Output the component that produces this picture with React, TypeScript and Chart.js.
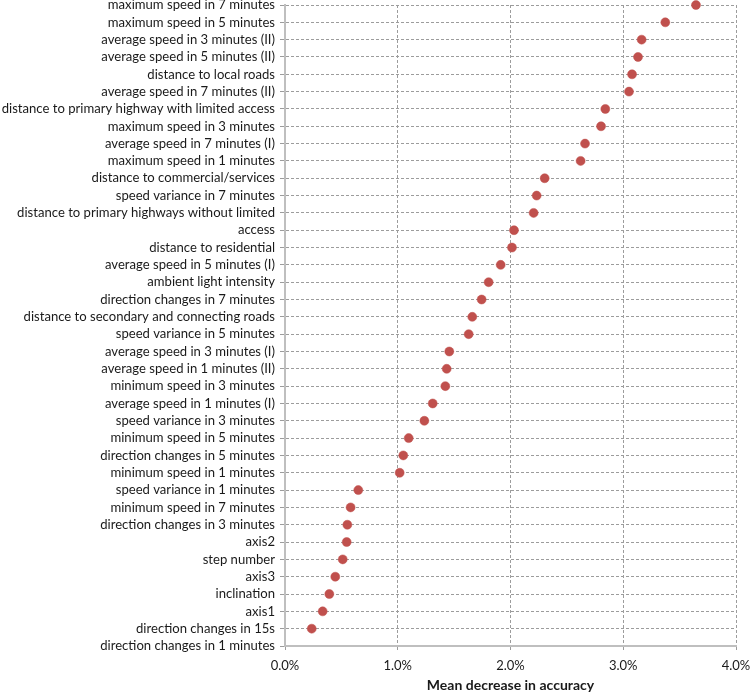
import React, { useEffect, useRef } from "react";
import { Chart, registerables } from "chart.js";

Chart.register(...registerables);

const categories: string[] = [
  "maximum speed in 7 minutes",
  "maximum speed in 5 minutes",
  "average speed in 3 minutes (II)",
  "average speed in 5 minutes (II)",
  "distance to local roads",
  "average speed in 7 minutes (II)",
  "distance to primary highway with limited access",
  "maximum speed in 3 minutes",
  "average speed in 7 minutes (I)",
  "maximum speed in 1 minutes",
  "distance to commercial/services",
  "speed variance in 7 minutes",
  "distance to primary highways without limited",
  "access",
  "distance to residential",
  "average speed in 5 minutes (I)",
  "ambient light intensity",
  "direction changes in 7 minutes",
  "distance to secondary and connecting roads",
  "speed variance in 5 minutes",
  "average speed in 3 minutes (I)",
  "average speed in 1 minutes (II)",
  "minimum speed in 3 minutes",
  "average speed in 1 minutes (I)",
  "speed variance in 3 minutes",
  "minimum speed in 5 minutes",
  "direction changes in 5 minutes",
  "minimum speed in 1 minutes",
  "speed variance in 1 minutes",
  "minimum speed in 7 minutes",
  "direction changes in 3 minutes",
  "axis2",
  "step number",
  "axis3",
  "inclination",
  "axis1",
  "direction changes in 15s",
  "direction changes in 1 minutes",
];

// Mean decrease in accuracy (fraction)
const meanDecrease: (number | null)[] = [
  0.03645, 0.03373, 0.03163, 0.03131, 0.03078, 0.03051, 0.02841,
  0.02803, 0.02661, 0.02622, 0.02303, 0.02232, 0.02205, 0.02031,
  0.02013, 0.01913, 0.01806, 0.01744, 0.01661, 0.01629, 0.01457,
  0.01434, 0.01422, 0.0131, 0.01236, 0.01097, 0.01049, 0.01017,
  0.0065, 0.00582, 0.00553, 0.00547, 0.00512, 0.00446, 0.00393,
  0.00334, 0.00237, null,
];

const xMin = 0;
const xMax = 0.04;
const xStep = 0.01;
const xTitle = "Mean decrease in accuracy";

export default function App() {
  const ref = useRef<HTMLCanvasElement | null>(null);

  useEffect(() => {
    if (!ref.current) return;
    const font = "Lato, 'Open Sans', sans-serif";
    const chart = new Chart(ref.current, {
      type: "line",
      data: {
        labels: categories,
        datasets: [
          {
            data: meanDecrease,
            showLine: false,
            pointRadius: 4.5,
            pointHoverRadius: 4.5,
            pointBackgroundColor: "#C0504D",
            pointBorderColor: "#C0504D",
            pointBorderWidth: 0.5,
            clip: false as any,
          },
        ],
      },
      options: {
        indexAxis: "y",
        responsive: false,
        animation: false,
        layout: { padding: { top: 5, right: 14, left: 0, bottom: 0 } },
        plugins: { legend: { display: false }, tooltip: { enabled: false } },
        scales: {
          y: {
            type: "category",
            offset: false,
            afterFit: (scale: any) => {
              scale.width = 285;
              scale.paddingTop = 0;
              scale.paddingBottom = 0;
            },
            grid: {
              color: "#9c9c9c",
              lineWidth: 1,
              tickLength: 5,
              tickColor: "#9c9c9c",
              tickBorderDash: [],
            },
            border: { display: true, color: "#BFBFBF", width: 2, dash: [3, 2] },
            ticks: {
              autoSkip: false,
              padding: 5,
              color: "#1a1a1a",
              font: { family: font, size: 13.1 },
            },
          },
          x: {
            type: "linear",
            min: xMin,
            max: xMax,
            afterFit: (scale: any) => {
              scale.height = 46;
              scale.paddingLeft = 0;
              scale.paddingRight = 0;
            },
            grid: {
              color: "#9c9c9c",
              lineWidth: 1,
              tickLength: 4,
              tickColor: "#9c9c9c",
              tickBorderDash: [],
            },
            border: { display: true, color: "#BFBFBF", width: 2, dash: [3, 2] },
            ticks: {
              stepSize: xStep,
              padding: 8,
              color: "#1a1a1a",
              font: { family: font, size: 13 },
              callback: (v: any) => (Number(v) * 100).toFixed(1) + "%",
            },
            title: {
              display: true,
              text: xTitle,
              color: "#1a1a1a",
              padding: { top: 0, bottom: 0 },
              font: { family: font, size: 14, weight: "bold", lineHeight: 1 },
            },
          },
        },
      },
    } as any);
    return () => chart.destroy();
  }, []);

  return (
    <div style={{ position: "absolute", left: 0, top: 0, width: 750, height: 692, background: "#fff" }}>
      <canvas ref={ref} width={750} height={692} style={{ display: "block" }} />
    </div>
  );
}
